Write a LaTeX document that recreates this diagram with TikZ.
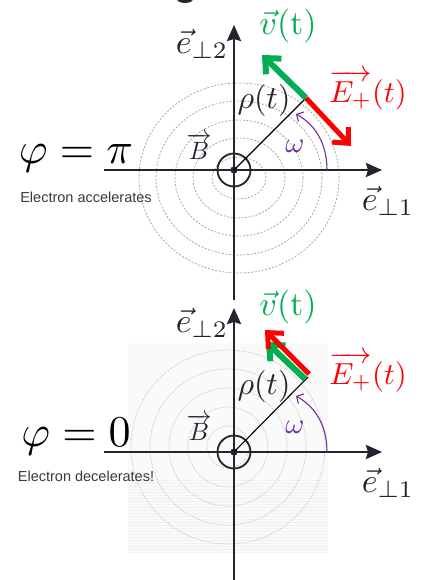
\documentclass[tikz,border=0pt]{standalone}
\usepackage{amsmath}
\usepackage{fontspec}
\setsansfont{Liberation Sans}
\usetikzlibrary{arrows.meta}
\definecolor{axiscol}{HTML}{24232E}
\definecolor{vgreen}{HTML}{00B050}
\definecolor{ered}{HTML}{FF0000}
\definecolor{wpurple}{HTML}{7030A0}
\definecolor{txtgray}{HTML}{3A3A3A}
\begin{document}
\begin{tikzpicture}[x=1pt,y=-1pt,
  axis/.style={draw=axiscol,line width=2.6pt,-{Stealth[length=16pt,width=14pt,inset=2pt]}},
  radius/.style={draw=black,line width=1.1pt},
  bcircle/.style={draw=axiscol,line width=1.8pt},
  ringA/.style={draw=gray!75,line width=0.7pt,dash pattern=on 2pt off 1.6pt},
  ringB/.style={draw=gray!45,line width=0.8pt,dash pattern=on 1.2pt off 1.4pt},
  vvec/.style={draw=vgreen,line width=6pt,-{Straight Barb[length=12pt,width=22pt]}},
  evec/.style={draw=ered,line width=5pt,-{Straight Barb[length=12pt,width=22pt]}},
  warc/.style={draw=wpurple,line width=1.1pt,-{Straight Barb[length=5pt,width=11pt]}},
  lab/.style={inner sep=0pt,font=\fontsize{10}{12}\selectfont},
  note/.style={inner sep=0pt,text=txtgray,font=\sffamily\fontsize{14.5}{16}\selectfont}]
\useasboundingbox (0,0) rectangle (420,580);
\fill[white] (0,0) rectangle (420,580);
% cut-off glyph at the very top
\begin{scope}
\clip (0,0) rectangle (420,580);
\fill[axiscol] (185,-1) ellipse (8 and 4);
\end{scope}

% ================= top diagram =================
\coordinate (O1) at (234,170);
\coordinate (X1s) at (104,170);
\coordinate (X1e) at (382,170);
\coordinate (Y1s) at (234,300);
\coordinate (Y1e) at (234,25);
\coordinate (P1) at (306,98);
\coordinate (V1) at (262,55);
\coordinate (E1) at (351,146);
\coordinate (W1s) at (327,170);
\coordinate (W1e) at (296,114);
\coordinate (R1) at (239,178);

\foreach \rx/\ry in {100/95,83/77,64/58,46/40,27/21}
  \draw[ringA] (R1) ellipse (\rx pt and \ry pt);

\draw[axis] (X1s) -- (X1e);
\draw[axis] (Y1s) -- (Y1e);
\draw[bcircle] (O1) circle (16.5pt);
\fill[axiscol] (O1) circle (3.6pt);
\draw[radius] (O1) -- (P1);
\draw[warc] (W1s) .. controls (327,142) and (314,124) .. (W1e);
\draw[evec] (P1) -- (E1);
\draw[vvec] (P1) -- (V1);

\node[lab,scale=4.4] (phi1) at (76,158) {$\varphi = \pi$};
\node[note] (acc) at (86,197) {Electron accelerates};
\node[lab,text=axiscol,scale=3.4] (e21) at (202,44) {$\vec{e}_{\perp 2}$};
\node[lab,text=axiscol,scale=3.4] (e11) at (388,201) {$\vec{e}_{\perp 1}$};
\node[lab,text=axiscol,scale=2.5] (B1) at (199,146) {$\overrightarrow{B}$};
\node[lab,text=axiscol,scale=3.2] (rho1) at (264,101) {$\rho(t)$};
\node[lab,text=wpurple,scale=2.9] (w1) at (295,146) {$\omega$};
\node[lab,text=vgreen,scale=3.4] (v1) at (288,26) {$\vec{v}(\mathrm{t})$};
\node[lab,text=ered,scale=3.05] (E1l) at (368,90) {$\overrightarrow{E_+}(t)$};

% ================= bottom diagram =================
\coordinate (O2) at (234,452);
\coordinate (X2s) at (104,452);
\coordinate (X2e) at (382,452);
\coordinate (Y2s) at (234,580);
\coordinate (Y2e) at (234,308);
\coordinate (P2g) at (305,379);
\coordinate (V2) at (266,342);
\coordinate (P2r) at (309,374);
\coordinate (E2) at (265,330);
\coordinate (W2s) at (327,452);
\coordinate (W2e) at (296,396);
\coordinate (R2) at (228,447);

\fill[gray!4] (128,343) rectangle (328,552);
\foreach \yy in {480,483,...,550}
  \draw[gray!12,line width=0.5pt] (128,\yy) -- (328,\yy);
\draw[gray!10,line width=0.5pt] (128,552) -- (328,552);
\foreach \r in {97,78,59,40,21}
  \draw[ringB] (R2) circle (\r pt);

\draw[axis] (X2s) -- (X2e);
\draw[axis] (Y2s) -- (Y2e);
\draw[bcircle] (O2) circle (16.5pt);
\fill[axiscol] (O2) circle (3.6pt);
\draw[radius] (O2) -- (308,377);
\draw[warc] (W2s) .. controls (327,424) and (314,406) .. (W2e);
\draw[vvec] (P2g) -- (V2);
\draw[evec] (P2r) -- (E2);

\node[lab,scale=4.4] (phi2) at (76,437) {$\varphi = 0$};
\node[note] (dec) at (86,476) {Electron decelerates!};
\node[lab,text=axiscol,scale=3.4] (e22) at (202,323) {$\vec{e}_{\perp 2}$};
\node[lab,text=axiscol,scale=3.4] (e12) at (388,483) {$\vec{e}_{\perp 1}$};
\node[lab,text=axiscol,scale=2.5] (B2) at (199,427) {$\overrightarrow{B}$};
\node[lab,text=axiscol,scale=3.2] (rho2) at (264,386) {$\rho(t)$};
\node[lab,text=wpurple,scale=2.9] (w2) at (295,427) {$\omega$};
\node[lab,text=vgreen,scale=3.4] (v2) at (288,307) {$\vec{v}(\mathrm{t})$};
\node[lab,text=ered,scale=3.05] (E2l) at (368,372) {$\overrightarrow{E_+}(t)$};
\end{tikzpicture}
\end{document}
